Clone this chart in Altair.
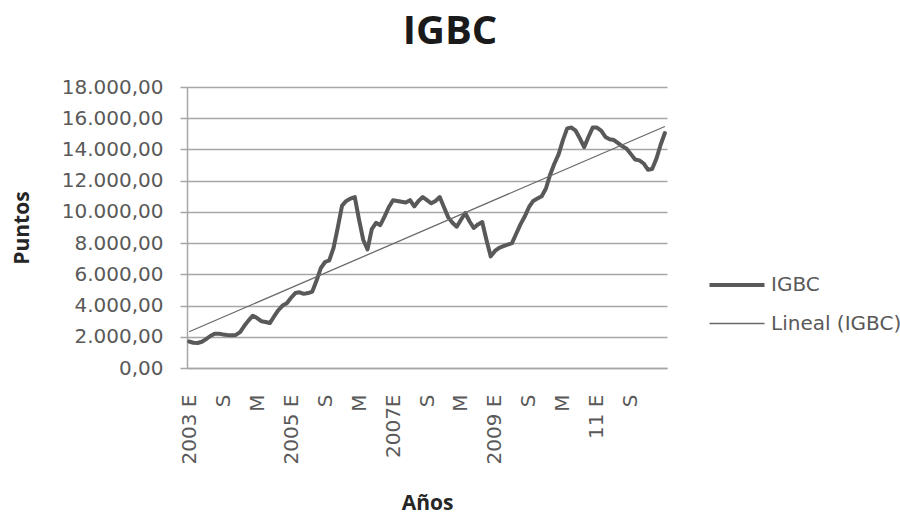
import json
import altair as alt
import pandas as pd

# ---------------- data ----------------
chart_title = "IGBC"
series_name = "IGBC"
trend_name = "Lineal (IGBC)"
y_title = "Puntos"
x_title = "Años"

# monthly IGBC closing values, Jan 2003 onward
igbc = [
    1700, 1620, 1600, 1680, 1850, 2050, 2200, 2200, 2150, 2120, 2100, 2120,
    2300, 2700, 3050, 3350, 3200, 3000, 2950, 2880, 3300, 3700, 4000, 4150,
    4500, 4800, 4850, 4750, 4800, 4900, 5600, 6400, 6790, 6900, 7700, 9000,
    10400, 10700, 10850, 10950, 9500, 8200, 7600, 8900, 9300, 9150, 9700, 10300,
    10750, 10700, 10650, 10600, 10750, 10350, 10700, 10950, 10750, 10550, 10700, 10950,
    10300, 9650, 9300, 9050, 9500, 9930, 9400, 8970, 9200, 9350, 8200, 7150,
    7500, 7700, 7800, 7900, 8000, 8600, 9200, 9700, 10300, 10700, 10850, 11000,
    11500, 12400, 13100, 13700, 14600, 15350, 15400, 15200, 14700, 14150, 14800, 15400,
    15400, 15200, 14800, 14650, 14600, 14400, 14200, 14050, 13700, 13350, 13300, 13100,
    12700, 12750, 13400, 14300, 15050,
]

tick_positions = [0, 8, 16, 24, 32, 40, 48, 56, 64, 72, 80, 88, 96, 104]
tick_labels = ["2003 E", "S", "M", "2005 E", "S", "M", "2007E", "S", "M",
               "2009 E", "S", "M", "11 E", "S"]
y_ticks = [0, 2000, 4000, 6000, 8000, 10000, 12000, 14000, 16000, 18000]

df = pd.DataFrame({"i": list(range(len(igbc))), "v": igbc})

# ---------------- styling ----------------
LABEL_FONT = "DejaVu Sans"
TITLE_FONT = "Open Sans"
TEXT_COLOR = "#595959"
GRID_COLOR = "#a6a6a6"

x_label_expr = json.dumps(tick_labels) + "[round(datum.value / 8)]"
y_label_expr = ("replace(replace(replace(format(datum.value, ',.2f'), ',', '_'), '.', ','), '_', '.')")

x_enc = alt.X(
    "i:Q",
    scale=alt.Scale(domain=[-0.5, len(igbc) - 0.5], nice=False, zero=False),
    axis=alt.Axis(
        title=x_title, values=tick_positions, tickCount=40, labelExpr=x_label_expr,
        labelAngle=-90, labelFont=LABEL_FONT, labelFontSize=20, labelColor=TEXT_COLOR,
        labelPadding=26, ticks=False, grid=False, domain=True, domainColor=GRID_COLOR,
        domainWidth=1.5, titleFont=TITLE_FONT, titleFontSize=21, titleFontWeight="bold",
        titleColor="#262626", titlePadding=29, labelOverlap=False, labelBound=False,
        labelFlush=False,
    ),
)
y_enc = alt.Y(
    "v:Q",
    scale=alt.Scale(domain=[0, 18000], nice=False),
    axis=alt.Axis(
        title=y_title, values=y_ticks, tickCount=40, labelExpr=y_label_expr,
        labelOverlap=False, labelFont=LABEL_FONT, labelFontSize=20, labelColor=TEXT_COLOR,
        labelPadding=17, tickSize=7, tickColor=GRID_COLOR, tickWidth=1.5, domain=True,
        domainColor=GRID_COLOR, domainWidth=1.5, grid=True, gridColor=GRID_COLOR,
        gridWidth=1.5, titleFont=TITLE_FONT, titleFontSize=21, titleFontWeight="bold",
        titleColor="#262626", titlePadding=29, labelFlush=False,
    ),
)

color_scale = alt.Scale(domain=[series_name, trend_name], range=["#595959", "#6a6a6a"])
width_scale = alt.Scale(domain=[series_name, trend_name], range=[4, 1.3])
legend = alt.Legend(
    title=None, orient="none", legendX=534, legendY=182, padding=0,
    symbolType="M-2,0H2", symbolSize=756, rowPadding=14, labelOffset=18,
    labelFont=LABEL_FONT, labelFontSize=20, labelColor=TEXT_COLOR,
)

base = alt.Chart(df)

line = base.transform_calculate(series=f"'{series_name}'").mark_line(
    strokeJoin="round", strokeCap="round"
).encode(
    x=x_enc, y=y_enc,
    color=alt.Color("series:N", scale=color_scale, legend=legend),
    strokeWidth=alt.StrokeWidth("series:N", scale=width_scale, legend=legend),
)

trend = base.transform_regression("i", "v", method="linear").transform_calculate(
    series=f"'{trend_name}'"
).mark_line().encode(
    x="i:Q", y="v:Q",
    color=alt.Color("series:N", scale=color_scale, legend=legend),
    strokeWidth=alt.StrokeWidth("series:N", scale=width_scale, legend=legend),
)

chart = alt.layer(line, trend).properties(
    width=480, height=281,
    autosize=alt.AutoSizeParams(type="none"),
    padding={"left": 187, "top": 87, "right": 233, "bottom": 147},
    background="white",
    title=alt.TitleParams(
        chart_title, font=TITLE_FONT, fontSize=40, fontWeight="bold", color="#1a1a1a",
        anchor="middle", frame="group", dx=23, offset=-7, baseline="alphabetic",
    ),
).configure_view(stroke=None)

chart.save("out.html", embed_options={"renderer": "svg", "actions": False})
